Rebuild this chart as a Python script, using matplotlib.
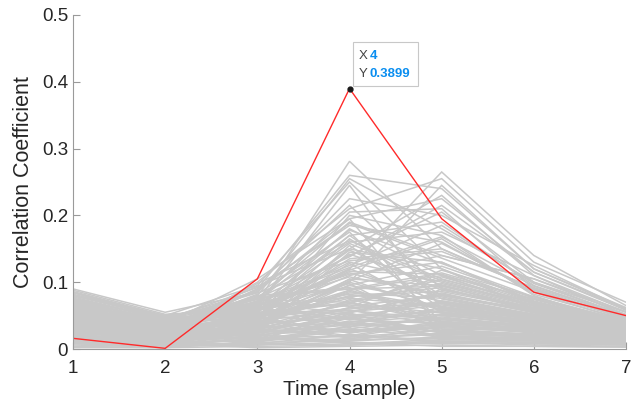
import matplotlib
matplotlib.use("Agg")
import matplotlib.pyplot as plt
import matplotlib.transforms as mtransforms
from matplotlib.patches import Rectangle

plt.rcParams['font.family'] = ['Liberation Sans', 'DejaVu Sans']

samples = [1, 2, 3, 4, 5, 6, 7]

# correct key guess
correct_key = [0.016, 0.001, 0.105, 0.3899, 0.195, 0.085, 0.050]

# wrong key guesses (approximate)
wrong_keys = [
    [0.060, 0.030, 0.070, 0.281, 0.150, 0.090, 0.045],
    [0.045, 0.020, 0.090, 0.260, 0.240, 0.120, 0.060],
    [0.070, 0.035, 0.080, 0.255, 0.180, 0.100, 0.050],
    [0.030, 0.040, 0.060, 0.120, 0.265, 0.140, 0.065],
    [0.080, 0.050, 0.095, 0.250, 0.120, 0.070, 0.040],
    [0.050, 0.025, 0.100, 0.210, 0.255, 0.130, 0.070],
    [0.020, 0.015, 0.050, 0.150, 0.230, 0.110, 0.055],
    [0.090, 0.055, 0.085, 0.225, 0.200, 0.125, 0.060],
    [0.065, 0.045, 0.070, 0.205, 0.210, 0.090, 0.045],
    [0.040, 0.010, 0.040, 0.200, 0.170, 0.080, 0.035],
    [0.075, 0.030, 0.065, 0.245, 0.060, 0.050, 0.030],
    [0.055, 0.038, 0.105, 0.195, 0.225, 0.115, 0.058],
    [0.085, 0.048, 0.075, 0.190, 0.140, 0.105, 0.052],
    [0.025, 0.022, 0.035, 0.100, 0.245, 0.120, 0.062],
    [0.068, 0.028, 0.088, 0.215, 0.090, 0.060, 0.038],
    [0.035, 0.018, 0.060, 0.180, 0.110, 0.075, 0.040],
    [0.072, 0.042, 0.055, 0.170, 0.190, 0.095, 0.048],
    [0.015, 0.012, 0.045, 0.165, 0.080, 0.055, 0.030],
    [0.058, 0.033, 0.078, 0.160, 0.175, 0.110, 0.050],
    [0.042, 0.026, 0.030, 0.155, 0.060, 0.045, 0.025],
    [0.078, 0.044, 0.092, 0.185, 0.160, 0.085, 0.042],
    [0.010, 0.008, 0.025, 0.145, 0.130, 0.070, 0.036],
    [0.062, 0.036, 0.068, 0.140, 0.205, 0.100, 0.055],
    [0.048, 0.030, 0.082, 0.175, 0.040, 0.035, 0.022],
    [0.028, 0.016, 0.048, 0.135, 0.150, 0.090, 0.046],
    [0.088, 0.052, 0.060, 0.130, 0.100, 0.065, 0.034],
    [0.038, 0.024, 0.072, 0.125, 0.185, 0.098, 0.050],
    [0.018, 0.014, 0.038, 0.120, 0.070, 0.048, 0.028],
    [0.066, 0.040, 0.058, 0.118, 0.165, 0.082, 0.044],
    [0.052, 0.032, 0.094, 0.150, 0.120, 0.060, 0.032],
    [0.032, 0.020, 0.052, 0.110, 0.140, 0.105, 0.056],
    [0.074, 0.046, 0.086, 0.195, 0.030, 0.028, 0.018],
    [0.022, 0.010, 0.028, 0.105, 0.095, 0.058, 0.033],
    [0.082, 0.050, 0.064, 0.170, 0.075, 0.050, 0.027],
    [0.044, 0.028, 0.076, 0.138, 0.215, 0.115, 0.060],
    [0.012, 0.006, 0.042, 0.128, 0.055, 0.040, 0.024],
    [0.056, 0.034, 0.066, 0.112, 0.130, 0.072, 0.039],
    [0.036, 0.022, 0.098, 0.162, 0.105, 0.068, 0.037],
    [0.070, 0.038, 0.050, 0.148, 0.088, 0.062, 0.035],
    [0.026, 0.012, 0.036, 0.102, 0.158, 0.088, 0.047],
    [0.054, 0.034, 0.072, 0.178, 0.128, 0.078, 0.041],
    [0.038, 0.020, 0.046, 0.142, 0.096, 0.064, 0.035],
    [0.070, 0.044, 0.084, 0.132, 0.146, 0.092, 0.049],
    [0.024, 0.016, 0.056, 0.116, 0.112, 0.070, 0.038],
    [0.086, 0.050, 0.066, 0.108, 0.082, 0.058, 0.032],
    [0.046, 0.030, 0.090, 0.188, 0.136, 0.086, 0.046],
    [0.016, 0.010, 0.034, 0.096, 0.124, 0.076, 0.041],
    [0.062, 0.038, 0.062, 0.158, 0.102, 0.066, 0.036],
    [0.034, 0.022, 0.070, 0.122, 0.168, 0.094, 0.050],
    [0.076, 0.046, 0.048, 0.100, 0.062, 0.046, 0.027],
    [0.050, 0.030, 0.078, 0.090, 0.114, 0.074, 0.040],
    [0.028, 0.018, 0.040, 0.080, 0.086, 0.060, 0.034],
    [0.066, 0.040, 0.054, 0.068, 0.108, 0.068, 0.038],
    [0.042, 0.026, 0.064, 0.114, 0.078, 0.052, 0.030],
    [0.018, 0.012, 0.026, 0.062, 0.068, 0.048, 0.028],
    [0.058, 0.034, 0.044, 0.104, 0.058, 0.042, 0.025],
    [0.080, 0.048, 0.076, 0.090, 0.094, 0.062, 0.035],
    [0.036, 0.022, 0.032, 0.056, 0.082, 0.056, 0.032],
    [0.010, 0.006, 0.018, 0.052, 0.046, 0.034, 0.021],
    [0.052, 0.030, 0.050, 0.078, 0.036, 0.028, 0.017],
    [0.072, 0.042, 0.060, 0.046, 0.072, 0.052, 0.030],
    [0.030, 0.018, 0.046, 0.088, 0.054, 0.040, 0.024],
    [0.044, 0.024, 0.024, 0.036, 0.062, 0.044, 0.026],
    [0.060, 0.036, 0.042, 0.058, 0.044, 0.034, 0.021],
    [0.022, 0.012, 0.038, 0.048, 0.024, 0.020, 0.013],
    [0.040, 0.024, 0.052, 0.070, 0.040, 0.030, 0.018],
    [0.068, 0.040, 0.032, 0.040, 0.050, 0.038, 0.023],
    [0.014, 0.008, 0.014, 0.034, 0.020, 0.016, 0.011],
    [0.048, 0.028, 0.044, 0.024, 0.038, 0.030, 0.019],
    [0.032, 0.018, 0.020, 0.018, 0.028, 0.022, 0.014],
    [0.056, 0.032, 0.028, 0.030, 0.018, 0.016, 0.011],
    [0.026, 0.014, 0.030, 0.046, 0.052, 0.036, 0.022],
    [0.008, 0.004, 0.006, 0.016, 0.024, 0.018, 0.012],
    [0.038, 0.020, 0.016, 0.012, 0.034, 0.026, 0.016],
    [0.062, 0.034, 0.052, 0.038, 0.026, 0.022, 0.014],
    [0.016, 0.008, 0.008, 0.006, 0.012, 0.010, 0.007],
    [0.044, 0.024, 0.036, 0.020, 0.010, 0.008, 0.006],
    [0.030, 0.016, 0.024, 0.054, 0.016, 0.012, 0.008],
    [0.002, 0.002, 0.012, 0.028, 0.036, 0.026, 0.016],
    [0.054, 0.030, 0.022, 0.010, 0.004, 0.004, 0.003],
    [0.060, 0.032, 0.046, 0.095, 0.072, 0.050, 0.030],
    [0.046, 0.024, 0.034, 0.088, 0.110, 0.064, 0.036],
    [0.080, 0.046, 0.058, 0.082, 0.060, 0.042, 0.025],
    [0.030, 0.018, 0.062, 0.078, 0.092, 0.056, 0.032],
    [0.014, 0.008, 0.020, 0.074, 0.045, 0.034, 0.020],
    [0.066, 0.040, 0.074, 0.070, 0.098, 0.066, 0.038],
    [0.040, 0.026, 0.044, 0.066, 0.050, 0.038, 0.022],
    [0.054, 0.030, 0.030, 0.062, 0.118, 0.078, 0.042],
    [0.024, 0.014, 0.054, 0.058, 0.036, 0.026, 0.016],
    [0.072, 0.042, 0.068, 0.054, 0.084, 0.054, 0.031],
    [0.034, 0.020, 0.026, 0.050, 0.066, 0.046, 0.027],
    [0.008, 0.004, 0.016, 0.046, 0.028, 0.020, 0.012],
    [0.058, 0.036, 0.080, 0.092, 0.040, 0.030, 0.019],
    [0.044, 0.028, 0.040, 0.084, 0.076, 0.052, 0.029],
    [0.020, 0.012, 0.032, 0.040, 0.058, 0.040, 0.024],
    [0.076, 0.044, 0.052, 0.036, 0.046, 0.036, 0.021],
    [0.050, 0.034, 0.064, 0.032, 0.090, 0.060, 0.034],
    [0.028, 0.016, 0.022, 0.028, 0.034, 0.024, 0.015],
    [0.064, 0.038, 0.048, 0.024, 0.052, 0.044, 0.026],
    [0.038, 0.022, 0.058, 0.098, 0.026, 0.022, 0.014],
    [0.016, 0.010, 0.012, 0.020, 0.042, 0.030, 0.018],
    [0.056, 0.032, 0.036, 0.086, 0.062, 0.048, 0.028],
    [0.084, 0.048, 0.070, 0.064, 0.080, 0.058, 0.033],
    [0.032, 0.018, 0.042, 0.016, 0.022, 0.018, 0.011],
    [0.006, 0.003, 0.010, 0.012, 0.018, 0.014, 0.009],
    [0.048, 0.026, 0.028, 0.072, 0.104, 0.070, 0.040],
    [0.068, 0.040, 0.056, 0.044, 0.038, 0.032, 0.020],
    [0.026, 0.014, 0.018, 0.008, 0.014, 0.012, 0.008],
    [0.042, 0.024, 0.050, 0.060, 0.070, 0.050, 0.030],
    [0.018, 0.010, 0.024, 0.038, 0.030, 0.022, 0.014],
    [0.062, 0.036, 0.038, 0.048, 0.056, 0.040, 0.024],
    [0.036, 0.020, 0.014, 0.030, 0.048, 0.034, 0.021],
    [0.052, 0.030, 0.060, 0.052, 0.024, 0.020, 0.013],
    [0.010, 0.006, 0.008, 0.022, 0.012, 0.010, 0.007],
    [0.074, 0.042, 0.044, 0.076, 0.064, 0.046, 0.027],
    [0.022, 0.012, 0.030, 0.018, 0.040, 0.028, 0.017],
    [0.046, 0.026, 0.020, 0.042, 0.020, 0.016, 0.010],
    [0.030, 0.016, 0.034, 0.068, 0.054, 0.038, 0.023],
    [0.012, 0.006, 0.006, 0.010, 0.008, 0.008, 0.006],
    [0.040, 0.022, 0.026, 0.026, 0.032, 0.026, 0.016],
    [0.058, 0.032, 0.016, 0.014, 0.016, 0.014, 0.010],
    [0.004, 0.002, 0.004, 0.006, 0.010, 0.006, 0.004],
    [0.034, 0.018, 0.010, 0.034, 0.044, 0.032, 0.019],
    [0.050, 0.028, 0.012, 0.056, 0.068, 0.044, 0.026],
    [0.020, 0.008, 0.002, 0.004, 0.006, 0.004, 0.003],
]

tip_x, tip_y = 4, 0.3899

fig = plt.figure(figsize=(6.33, 4.16), dpi=100)
ax = fig.add_axes([0.1153, 0.161, 0.8737, 0.803])

for row in wrong_keys:
    ax.plot(samples, row, color='#c8c8c8', linewidth=1.1, solid_joinstyle='miter')
ax.plot(samples, correct_key, color='#ff2a2a', linewidth=1.0)

ax.set_xlim(1, 7)
ax.set_ylim(0, 0.5)
ax.set_xticks(samples)
ax.set_yticks([0, 0.1, 0.2, 0.3, 0.4, 0.5])
ax.set_yticklabels(['0', '0.1', '0.2', '0.3', '0.4', '0.5'])

for side in ['top', 'right']:
    ax.spines[side].set_visible(False)
for side in ['left', 'bottom']:
    ax.spines[side].set_color('#9a9a9a')
    ax.spines[side].set_linewidth(0.8)
ax.tick_params(direction='in', length=5, width=0.8, color='#9a9a9a',
               labelsize=13.5, labelcolor='#262626')
ax.tick_params(axis='x', pad=8)
ax.set_xlabel('Time (sample)', fontsize=15, color='#262626', labelpad=2)
ax.set_ylabel('Correlation Coefficient', fontsize=15.5, color='#262626', labelpad=6)

# data tip
ax.plot([tip_x], [tip_y], 'o', color='#1a1a1a', markersize=3.5, zorder=5)
anchor = mtransforms.ScaledTranslation(tip_x, tip_y, ax.transData)
box_tr = mtransforms.Affine2D() + anchor
ax.add_patch(Rectangle((3, 3), 65, 44, transform=box_tr, facecolor='white',
                       edgecolor='#c8c8c8', linewidth=0.8, zorder=6, clip_on=False))
ax.annotate('X', (tip_x, tip_y), xytext=(9, 33), textcoords='offset pixels',
            fontsize=9.5, color='#444444', va='center', zorder=7)
ax.annotate(str(tip_x), (tip_x, tip_y), xytext=(20, 33), textcoords='offset pixels',
            fontsize=9.5, color='#0a8ef0', fontweight='bold', va='center', zorder=7)
ax.annotate('Y', (tip_x, tip_y), xytext=(9, 15), textcoords='offset pixels',
            fontsize=9.5, color='#444444', va='center', zorder=7)
ax.annotate('%.4f' % tip_y, (tip_x, tip_y), xytext=(20, 15), textcoords='offset pixels',
            fontsize=9.5, color='#0a8ef0', fontweight='bold', va='center', zorder=7)

fig.savefig('out.png', dpi=100)
